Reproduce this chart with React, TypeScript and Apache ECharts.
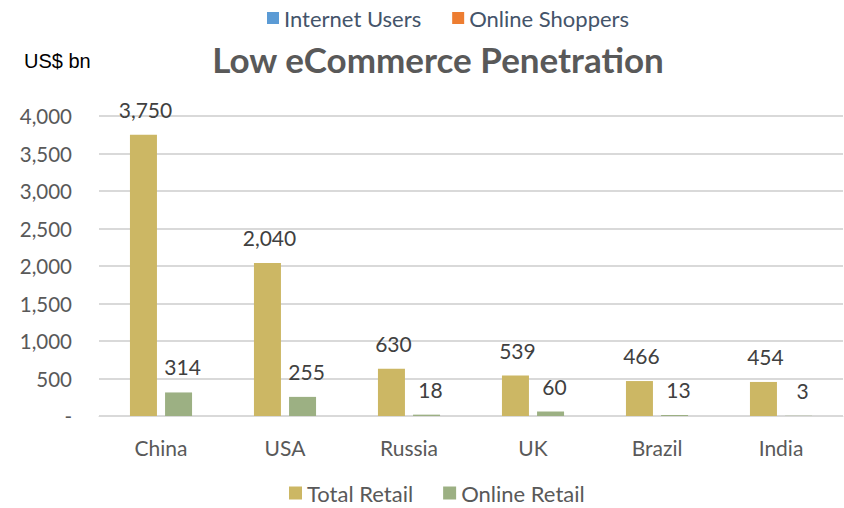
import React, { useEffect, useRef } from "react";
import * as echarts from "echarts";

const categories = ["China", "USA", "Russia", "UK", "Brazil", "India"];
const totalRetail = [3750, 2040, 630, 539, 466, 454];
const onlineRetail = [314, 255, 18, 60, 13, 3];
const topLegend = ["Internet Users", "Online Shoppers"];
const FONT = "Lato, 'Open Sans', sans-serif";

export default function App() {
  const ref = useRef<HTMLDivElement>(null);
  useEffect(() => {
    if (!ref.current) return;
    const chart = echarts.init(ref.current, null, { renderer: "svg" });
    const fmt = (v: number) => (v === 0 ? "-" : v.toLocaleString("en-US"));
    chart.setOption({
      animation: false,
      textStyle: { fontFamily: FONT },
      title: {
        text: "Low eCommerce Penetration",
        left: 433,
        top: 36,
        textAlign: "center",
        textStyle: { fontSize: 35, fontWeight: "bold", color: "#595959", fontFamily: FONT },
      },
      graphic: [
        {
          type: "text",
          left: 24,
          top: 51,
          style: { text: "US$ bn", fontSize: 20, fill: "#000", fontFamily: "'Liberation Sans', Arial, sans-serif" },
        },
      ],
      legend: [
        {
          data: topLegend,
          top: 6,
          left: 267,
          padding: 0,
          icon: "rect",
          itemWidth: 12,
          itemHeight: 12,
          itemGap: 31,
          textStyle: { fontSize: 22, lineHeight: 24, color: "#44546A", fontFamily: FONT },
          selectedMode: false,
        },
        {
          data: ["Total Retail", "Online Retail"],
          top: 482,
          left: 289,
          padding: 0,
          icon: "rect",
          itemWidth: 13,
          itemHeight: 13,
          itemGap: 30,
          textStyle: { fontSize: 22, lineHeight: 22, color: "#595959", fontFamily: FONT },
          selectedMode: false,
        },
      ],
      grid: { left: 99, right: 1, top: 116, bottom: 92 },
      xAxis: {
        type: "category",
        data: categories,
        axisLine: { lineStyle: { color: "#D9D9D9", width: 1 } },
        axisTick: { show: false },
        axisLabel: { fontSize: 21, color: "#595959", margin: 21, fontFamily: FONT },
      },
      yAxis: {
        type: "value",
        min: 0,
        max: 4000,
        interval: 500,
        axisLine: { show: false },
        axisTick: { show: false },
        splitLine: { lineStyle: { color: "#D9D9D9", width: 2 } },
        axisLabel: { fontSize: 20.5, color: "#595959", margin: 27, formatter: fmt, fontFamily: FONT },
      },
      series: [
        {
          name: "Total Retail",
          type: "bar",
          data: totalRetail,
          barWidth: 27,
          barGap: "30%",
          itemStyle: { color: "#CCB764" },
          label: {
            show: true,
            position: "top",
            distance: 15,
            fontSize: 21,
            color: "#404040",
            fontFamily: FONT,
            offset: [2, 0],
            formatter: (p: any) => fmt(p.value),
          },
        },
        {
          name: "Online Retail",
          type: "bar",
          data: onlineRetail,
          barWidth: 27,
          itemStyle: { color: "#9CB083" },
          label: {
            show: true,
            position: "top",
            distance: 15,
            fontSize: 21,
            color: "#404040",
            fontFamily: FONT,
            offset: [4, 0],
            formatter: (p: any) => fmt(p.value),
          },
        },
        { name: "Internet Users", type: "line", data: [], itemStyle: { color: "#5B9BD5" } },
        { name: "Online Shoppers", type: "line", data: [], itemStyle: { color: "#ED7D31" } },
      ],
    });
    return () => chart.dispose();
  }, []);
  return <div ref={ref} style={{ position: "absolute", left: 0, top: 0, width: 844, height: 508 }} />;
}
